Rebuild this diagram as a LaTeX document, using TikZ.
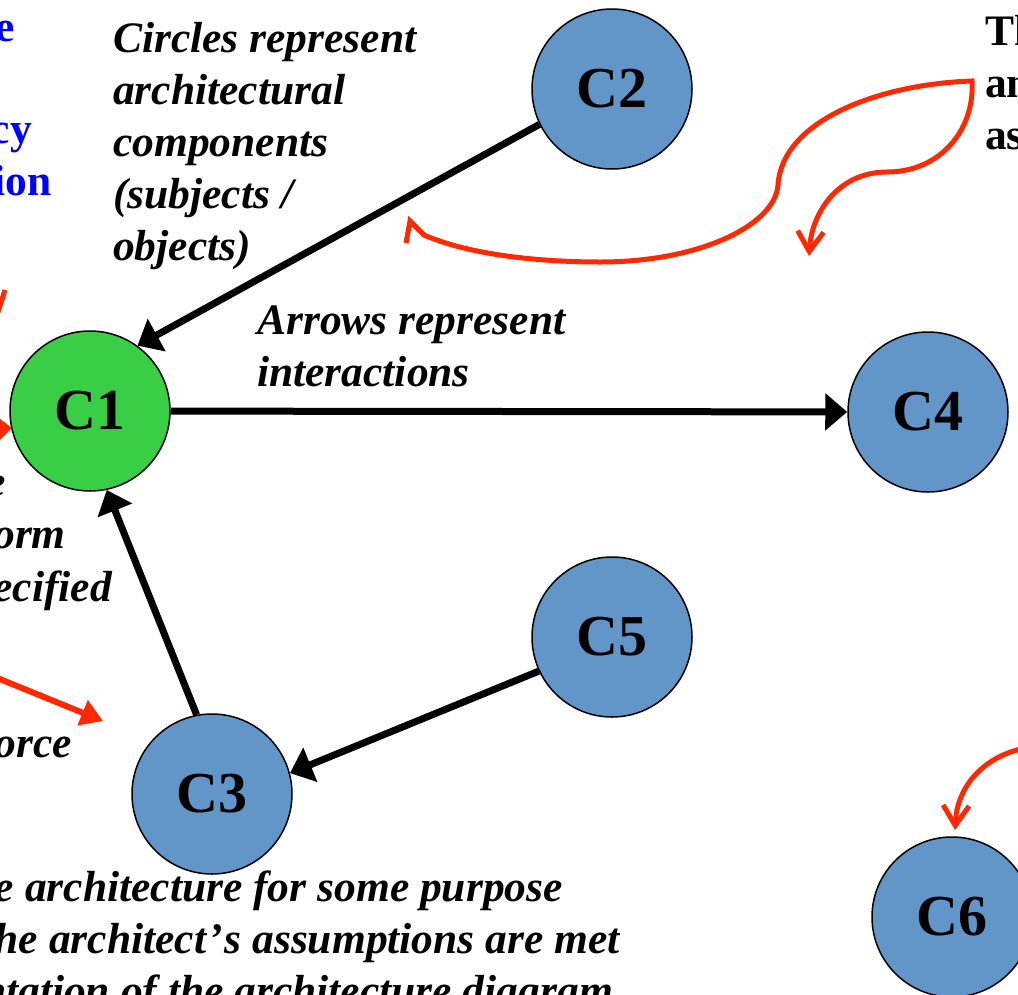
\documentclass[tikz,border=0pt]{standalone}
\usepackage{fontspec}
\setmainfont{Liberation Serif}
\usetikzlibrary{arrows.meta}
\definecolor{compblue}{RGB}{98,150,201}
\definecolor{compgreen}{RGB}{58,206,70}
\definecolor{notered}{RGB}{255,40,0}
\definecolor{keyblue}{RGB}{0,0,255}
\tikzset{
  comp/.style={circle, draw=black, line width=1.5pt, minimum size=160pt,
    inner sep=0pt, font=\fontsize{58}{60}\selectfont\bfseries},
  link/.style={line width=7pt, -{Triangle[length=22pt,width=36pt]}},
  note/.style={inner sep=0pt, font=\fontsize{43.5}{52}\selectfont\bfseries\itshape},
  plain/.style={inner sep=0pt, font=\fontsize{43.5}{52}\selectfont\bfseries},
  keynote/.style={plain, text=keyblue},
  redline/.style={draw=notered, line width=5pt},
  barb/.style={-{Straight Barb[length=20pt,width=26pt]}},
}
\begin{document}
\begin{tikzpicture}[x=1pt,y=-1pt]
\useasboundingbox (0,0) rectangle (1018,994);
\clip (0,0) rectangle (1018,994);

% components
\node[comp, fill=compgreen] (C1) at (90,411) {C1};
\node[comp, fill=compblue] (C2) at (612,89) {C2};
\node[comp, fill=compblue] (C3) at (212,794) {C3};
\node[comp, fill=compblue] (C4) at (928,412) {C4};
\node[comp, fill=compblue] (C5) at (612,637) {C5};
\node[comp, fill=compblue] (C6) at (952,917) {C6};

% interactions
\draw[link] (C2.206) -- (C1.54);
\draw[link] (C1) -- (C4);
\draw[link] (C3.101) -- (C1.-78);
\draw[link] (C5.205) -- (C3.15);

% callout texts
\node[note, anchor=base west] (n1) at (113,52) {Circles represent};
\node[note, anchor=base west] (n2) at (113,104) {architectural};
\node[note, anchor=base west] (n3) at (113,156) {components};
\node[note, anchor=base west] (n4) at (113,208) {(subjects /};
\node[note, anchor=base west] (n5) at (113,260) {objects)};

\node[note, anchor=base west] (a1) at (257,334) {Arrows represent};
\node[note, anchor=base west] (a2) at (257,386) {interactions};

\node[keynote, anchor=base east] (b1) at (15,41) {e};
\node[keynote, anchor=base east] (b2) at (32,143) {cy};
\node[keynote, anchor=base east] (b3) at (52,195) {ion};

\node[plain, anchor=base west] (r1) at (985,45) {Th};
\node[plain, anchor=base west] (r2) at (985,97) {an};
\node[plain, anchor=base west] (r3) at (985,149) {as};

\node[note, anchor=base east] (l1) at (6,496) {e};
\node[note, anchor=base east] (l2) at (66,548) {orm};
\node[note, anchor=base east] (l3) at (112,601) {ecified};
\node[note, anchor=base east] (l4) at (72,757) {orce};

\node[note, anchor=base east] (d1) at (563,901) {e architecture for some purpose};
\node[note, anchor=base east] (d2) at (620,953) {he architect\kern2pt’\kern2pt s assumptions are met};
\node[note, anchor=base east] (d3) at (613,1005) {ntation of the architecture diagram};

% red annotation strokes
\draw[redline, barb] (406,243) -- (410,221) -- (424,235)
  .. controls (470,255) and (540,262) .. (600,262)
  .. controls (700,262) and (775,225) .. (778,185)
  .. controls (782,120) and (880,84) .. (972,81)
  .. controls (975,130) and (940,172) .. (887,172)
  .. controls (840,172) and (812,210) .. (809,256);
\draw[redline, barb] (1025,748) .. controls (985,756) and (957,785) .. (955,830);
\draw[redline, line width=6pt, -{Triangle[length=22pt,width=26pt]}] (-10,675) -- (103,721);
\draw[redline, -{Triangle[length=18pt,width=30pt]}] (-60,432) -- (12,428);
\draw[redline] (-6,324) -- (5,290);
\end{tikzpicture}
\end{document}
